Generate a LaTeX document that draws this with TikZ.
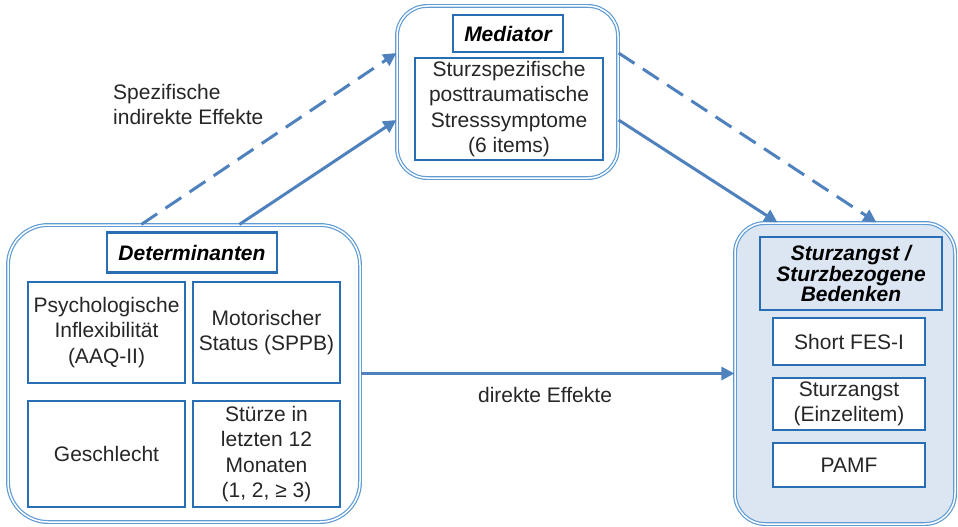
\documentclass[tikz,border=0pt]{standalone}
\usepackage{fontspec}
\setmainfont{Liberation Sans}
\usetikzlibrary{arrows.meta}
\definecolor{outerblue}{RGB}{95,155,212}
\definecolor{innerblue}{RGB}{40,110,180}
\definecolor{arrowblue}{RGB}{79,129,189}
\definecolor{paleblue}{RGB}{220,230,242}
\definecolor{textgray}{RGB}{38,38,38}
\begin{document}
\begin{tikzpicture}[x=1pt,y=-1pt,
  outerbox/.style={draw=outerblue, double=white, double distance=1.5pt, line width=1.2pt, rounded corners=#1, inner sep=0pt},
  innerbox/.style={draw=innerblue, line width=2.2pt, fill=white, inner sep=0pt, align=center, text=textgray,
    font=\fontsize{21}{25.5}\selectfont},
  titlebox/.style={innerbox, text=black, font=\fontsize{21}{20.5}\selectfont\bfseries\itshape},
  conn/.style={draw=arrowblue, line width=3pt, -{Triangle[length=13pt,width=13pt]}},
  dashconn/.style={conn, dash pattern=on 19pt off 10pt},
  lbl/.style={font=\fontsize{21}{25.5}\selectfont, align=left, text=textgray, inner sep=0pt}
]
\useasboundingbox (0,0) rectangle (958,527);

% Mediator
\node[outerbox=30pt, minimum width=221pt, minimum height=172pt] (M) at (507.5,92) {};
\node[titlebox, minimum width=110pt, minimum height=37pt] (Mt) at (508,33.5) {Mediator};
\node[innerbox, minimum width=188pt, minimum height=102pt] (Mi) at (509,109)
  {Sturzspezifische\\posttraumatische\\Stresssymptome\\(6 items)};

% Determinanten
\node[outerbox=40pt, minimum width=352pt, minimum height=297pt] (L) at (184,373.5) {};
\node[titlebox, minimum width=170pt, minimum height=40pt] (Lt) at (192,252.5) {Determinanten};
\node[innerbox, minimum width=157pt, minimum height=101pt] (L1) at (106.5,332.5)
  {Psychologische\\Inflexibilität\\(AAQ-II)};
\node[innerbox, minimum width=147pt, minimum height=101pt] (L2) at (266.5,332.5)
  {Motorischer\\Status (SPPB)};
\node[innerbox, minimum width=157pt, minimum height=106pt] (L3) at (106.5,454)
  {Geschlecht};
\node[innerbox, minimum width=147pt, minimum height=106pt] (L4) at (266.5,454)
  {Stürze in\\letzten 12\\Monaten\\(1, 2, ≥ 3)};

% Sturzangst
\node[outerbox=30pt, fill=paleblue, minimum width=220pt, minimum height=301pt] (R) at (845,373.5) {};
\node[titlebox, fill=paleblue, minimum width=182pt, minimum height=73pt] (Rt) at (851,273.5)
  {Sturzangst /\\Sturzbezogene\\Bedenken};
\node[innerbox, minimum width=152pt, minimum height=47pt] (R1) at (849,341.5) {Short FES-I};
\node[innerbox, minimum width=152pt, minimum height=52pt] (R2) at (849,404)
  {Sturzangst\\(Einzelitem)};
\node[innerbox, minimum width=152pt, minimum height=44pt] (R3) at (849,465) {PAMF};

% connectors
\draw[dashconn] ([xshift=134pt]L.north west) -- ([yshift=39pt]M.west);
\draw[conn] ([xshift=232pt]L.north west) -- ([yshift=-28pt]M.west);
\draw[conn] ([yshift=-28pt]M.east) -- ([xshift=43pt]R.north west);
\draw[dashconn] ([yshift=39pt]M.east) -- ([xshift=142pt]R.north west);
\draw[conn] (L.east) -- (R.west);

% labels
\node[lbl, anchor=north west] (lab1) at (113,84) {Spezifische\\indirekte Effekte};
\node[lbl] (lab2) at (545,395) {direkte Effekte};
\end{tikzpicture}
\end{document}
